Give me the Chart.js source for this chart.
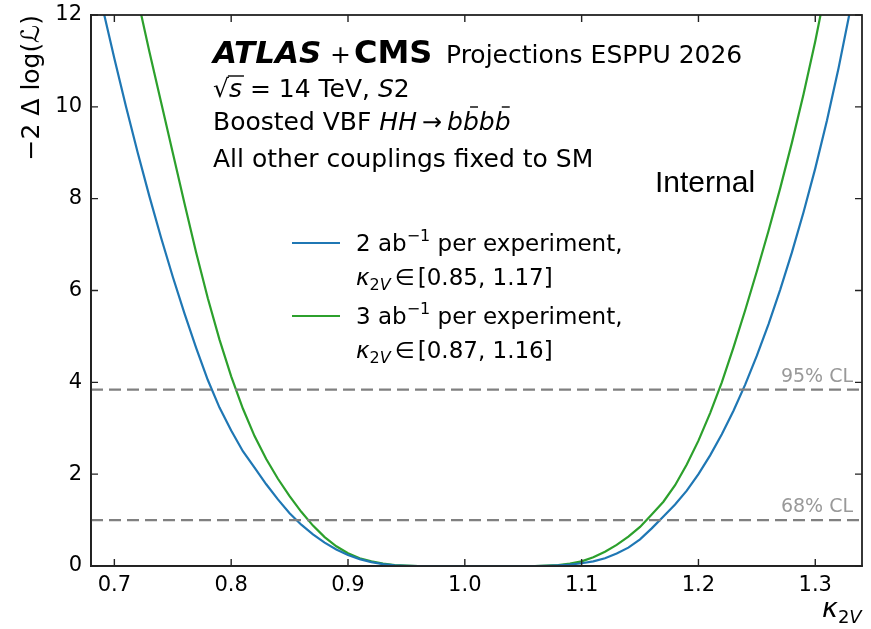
<!DOCTYPE html>
<html>
<head>
<meta charset="utf-8">
<script src="https://cdn.jsdelivr.net/npm/chart.js@4.4.1/dist/chart.umd.min.js"></script>
<style>
  html, body { margin: 0; padding: 0; background: #fff; }
  #wrap { width: 871px; height: 629px; }
</style>
</head>
<body>
<div id="wrap"><canvas id="chart" width="871" height="629"></canvas></div>
<script>
// kappa_2V scan points
const kappa = [
  0.68, 0.69, 0.70, 0.71, 0.72, 0.73, 0.74, 0.75, 0.76, 0.77, 0.78, 0.79,
  0.80, 0.81, 0.82, 0.83, 0.84, 0.85, 0.86, 0.87, 0.88, 0.89, 0.90, 0.91,
  0.92, 0.93, 0.94, 0.95, 0.96, 0.97, 0.98, 0.99, 1.00, 1.01, 1.02, 1.03,
  1.04, 1.05, 1.06, 1.07, 1.08, 1.09, 1.10, 1.11, 1.12, 1.13, 1.14, 1.15,
  1.16, 1.17, 1.18, 1.19, 1.20, 1.21, 1.22, 1.23, 1.24, 1.25, 1.26, 1.27,
  1.28, 1.29, 1.30, 1.31, 1.32, 1.33, 1.34,
];
// -2 dlogL, 2 ab-1 per experiment
const nll2ab = [
  13.3, 12.15, 11.05, 10.0, 9.0, 8.05, 7.15, 6.3, 5.5, 4.75, 4.05, 3.45,
  2.95, 2.5, 2.14, 1.78, 1.45, 1.15, 0.90, 0.69, 0.51, 0.36, 0.24, 0.15,
  0.085, 0.04, 0.015, 0.005, 0, 0, 0, 0, 0, 0, 0, 0,
  0, 0, 0, 0.005, 0.015, 0.03, 0.06, 0.10, 0.17, 0.27, 0.40, 0.58,
  0.82, 1.08, 1.34, 1.64, 2.00, 2.41, 2.87, 3.38, 3.95, 4.58, 5.27, 6.02,
  6.83, 7.71, 8.66, 9.70, 10.85, 12.12, 13.5,
];
// -2 dlogL, 3 ab-1 per experiment
const nll3ab = [
  17.4, 16.1, 14.8, 13.55, 12.35, 11.2, 10.1, 9.0, 7.9, 6.83, 5.83, 4.93,
  4.13, 3.43, 2.83, 2.33, 1.90, 1.52, 1.18, 0.88, 0.63, 0.43, 0.28, 0.17,
  0.10, 0.05, 0.02, 0.01, 0, 0, 0, 0, 0, 0, 0, 0,
  0, 0, 0, 0.01, 0.02, 0.05, 0.10, 0.19, 0.31, 0.46, 0.64, 0.85,
  1.12, 1.40, 1.76, 2.21, 2.73, 3.33, 4.00, 4.76, 5.57, 6.42, 7.30, 8.23,
  9.22, 10.28, 11.43, 12.7, 14.0, 15.4, 16.9,
];
const seriesNames = ['2', '3'];
const seriesIntervals = ['[0.85, 1.17]', '[0.87, 1.16]'];
const clLevels = [1.0, 3.84];
const clLabels = ['68% CL', '95% CL'];
const xTicks = [0.7, 0.8, 0.9, 1.0, 1.1, 1.2, 1.3];
const yTicks = [0, 2, 4, 6, 8, 10, 12];
const xRange = [0.68, 1.34];
const yRange = [0, 12];

const BLUE = '#1f77b4';
const GREEN = '#2ca02c';
const DASH = '#808080';
const FF = '"DejaVu Sans"';
const R = s => `${s}px ${FF}`;
const I = s => `italic ${s}px ${FF}`;
const B = s => `bold ${s}px ${FF}`;
const BI = s => `italic bold ${s}px ${FF}`;

function runs(ctx, x, y, parts) {
  for (const p of parts) {
    x += p.pre || 0;
    ctx.font = p.f;
    ctx.fillText(p.t, x, y + (p.dy || 0));
    const w = ctx.measureText(p.t).width;
    if (p.bar) {
      ctx.save();
      ctx.lineWidth = 1.4;
      ctx.beginPath();
      ctx.moveTo(x + p.bar[0] * w, y - p.bar[2]);
      ctx.lineTo(x + p.bar[1] * w, y - p.bar[2]);
      ctx.stroke();
      ctx.restore();
    }
    x += w + (p.gap || 0);
  }
  return x;
}

const frame = {
  id: 'frame',
  afterDatasetsDraw(chart) {
    const { ctx, chartArea: a, scales: { x, y } } = chart;
    ctx.save();
    ctx.strokeStyle = '#222';
    ctx.lineWidth = 1.8;
    ctx.strokeRect(a.left, a.top, a.right - a.left, a.bottom - a.top);
    ctx.lineWidth = 1.4;
    ctx.beginPath();
    xTicks.forEach(v => {
      const px = x.getPixelForValue(v);
      ctx.moveTo(px, a.bottom); ctx.lineTo(px, a.bottom - 7);
      ctx.moveTo(px, a.top); ctx.lineTo(px, a.top + 7);
    });
    yTicks.forEach(v => {
      const py = y.getPixelForValue(v);
      ctx.moveTo(a.left, py); ctx.lineTo(a.left + 7, py);
      ctx.moveTo(a.right, py); ctx.lineTo(a.right - 7, py);
    });
    ctx.stroke();

    // CL labels
    ctx.fillStyle = '#999';
    ctx.font = R(19);
    ctx.textAlign = 'right';
    clLevels.forEach((v, i) => ctx.fillText(clLabels[i], a.right - 9, y.getPixelForValue(v) - 8));
    ctx.textAlign = 'left';

    // header text
    ctx.fillStyle = '#000';
    ctx.strokeStyle = '#000';
    ctx.font = BI(31); ctx.fillText('ATLAS', 213, 63);
    ctx.font = R(25); ctx.fillText('+', 330, 63);
    ctx.font = B(32); ctx.fillText('CMS', 354, 63);
    ctx.font = R(25); ctx.fillText('Projections ESPPU 2026', 446, 63);

    let cx = runs(ctx, 213, 97, [{ t: '\u221a', f: R(25) }]);
    ctx.font = I(25);
    const sw = ctx.measureText('s').width;
    ctx.lineWidth = 1.4;
    ctx.beginPath(); ctx.moveTo(cx - 1, 97 - 21); ctx.lineTo(cx + sw + 2, 97 - 21); ctx.stroke();
    runs(ctx, cx, 97, [
      { t: 's', f: I(25) },
      { t: ' = 14 TeV, ', f: R(25) },
      { t: 'S', f: I(25) },
      { t: '2', f: R(25) },
    ]);
    runs(ctx, 213, 130, [
      { t: 'Boosted VBF ', f: R(25) },
      { t: 'HH', f: I(25) },
      { t: '\u2192', f: R(24), pre: 5, gap: 5 },
      { t: 'b', f: I(25) },
      { t: 'b', f: I(25), bar: [0.45, 0.95, 23] },
      { t: 'b', f: I(25) },
      { t: 'b', f: I(25), bar: [0.45, 0.95, 23] },
    ]);
    ctx.font = R(25); ctx.fillText('All other couplings fixed to SM', 213, 167);
    ctx.font = '30px "Liberation Sans"'; ctx.fillText('Internal', 655, 192);

    // legend
    const colors = [BLUE, GREEN];
    const rows = [243, 316];
    rows.forEach((ly, i) => {
      ctx.strokeStyle = colors[i];
      ctx.lineWidth = 2.2;
      ctx.beginPath(); ctx.moveTo(292, ly); ctx.lineTo(340, ly); ctx.stroke();
      runs(ctx, 356, ly + 8, [
        { t: seriesNames[i] + ' ab', f: R(23) },
        { t: '\u22121', f: R(16), dy: -10 },
        { t: ' per experiment,', f: R(23) },
      ]);
      runs(ctx, 356, ly + 42, [
        { t: '\u03ba', f: I(23) },
        { t: '2', f: R(16), dy: 5 },
        { t: 'V', f: I(16), dy: 5, gap: 4 },
        { t: '\u2208', f: R(23), gap: 3 },
        { t: seriesIntervals[i], f: R(23) },
      ]);
    });

    // x axis title
    runs(ctx, 822, 617, [
      { t: '\u03ba', f: I(27) },
      { t: '2', f: R(18), dy: 6 },
      { t: 'V', f: I(18), dy: 6 },
    ]);
    ctx.restore();
  },
};

const curve = (vals, color) => ({
  data: kappa.map((k, i) => ({ x: k, y: vals[i] })),
  borderColor: color,
  borderWidth: 2.2,
  pointRadius: 0,
  tension: 0,
  fill: false,
});

const clLines = clLevels.map(v => ({
  data: [{ x: xRange[0], y: v }, { x: xRange[1], y: v }],
  borderColor: DASH,
  borderWidth: 2.2,
  borderDash: [12, 6],
  pointRadius: 0,
  fill: false,
}));

new Chart(document.getElementById('chart'), {
  type: 'line',
  data: {
    datasets: [...clLines, curve(nll2ab, BLUE), curve(nll3ab, GREEN)],
  },
  options: {
    responsive: false,
    animation: false,
    layout: { padding: { top: 15, right: 9, left: 0, bottom: 0 } },
    plugins: { legend: { display: false }, tooltip: { enabled: false } },
    scales: {
      x: {
        type: 'linear',
        min: xRange[0],
        max: xRange[1],
        afterBuildTicks: s => { s.ticks = xTicks.map(v => ({ value: v })); },
        afterFit: s => { s.height = 63; s.paddingLeft = 0; s.paddingRight = 0; },
        grid: { display: false, drawTicks: false },
        border: { display: true, color: '#222', width: 1.8 },
        ticks: {
          padding: 7,
          color: '#000',
          font: { family: 'DejaVu Sans', size: 21 },
          maxRotation: 0,
          autoSkip: false,
          callback: v => Number(v).toFixed(1),
        },
      },
      y: {
        type: 'linear',
        min: yRange[0],
        max: yRange[1],
        afterBuildTicks: s => { s.ticks = yTicks.map(v => ({ value: v })); },
        afterFit: s => { s.width = 91; s.paddingTop = 0; s.paddingBottom = 0; },
        grid: { display: false, drawTicks: false },
        border: { display: true, color: '#222', width: 1.8 },
        ticks: {
          padding: 9,
          color: '#000',
          font: { family: 'DejaVu Sans', size: 21 },
          autoSkip: false,
          callback: v => String(v),
        },
        title: {
          display: true,
          text: '\u22122 \u0394 log(\u2112)',
          align: 'end',
          color: '#000',
          font: { family: 'DejaVu Sans', size: 25 },
          padding: { top: 17, bottom: 0 },
        },
      },
    },
  },
  plugins: [frame],
});
</script>
</body>
</html>
